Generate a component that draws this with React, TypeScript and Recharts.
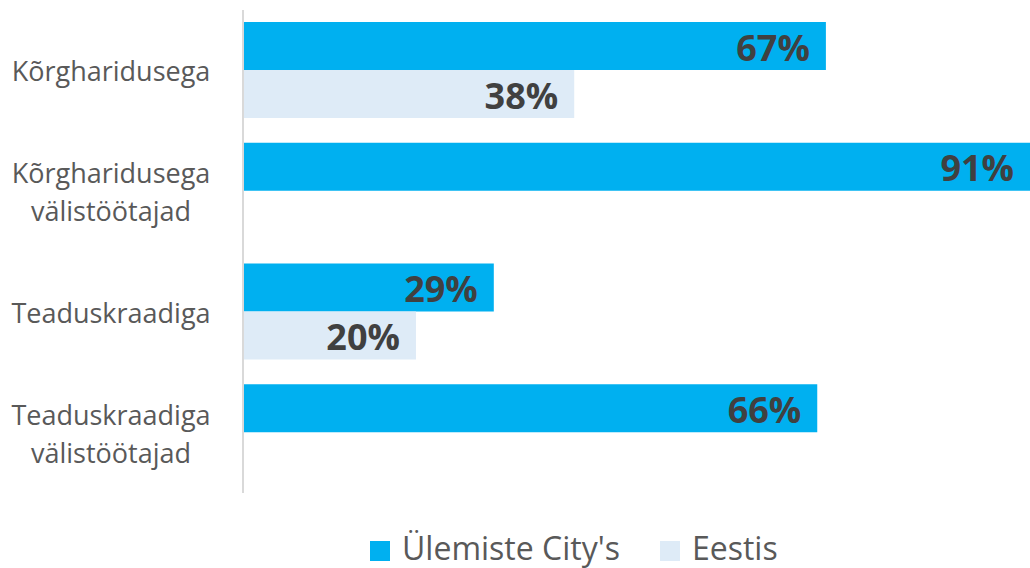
import { Bar, BarChart, LabelList, Legend, XAxis, YAxis } from "recharts";

const categories = [
	"Kõrgharidusega",
	"Kõrgharidusega välistöötajad",
	"Teaduskraadiga",
	"Teaduskraadiga välistöötajad",
];
// bar lengths; labels show them rounded
const ulemiste = [67.4, 91, 29, 66.4];
const eestis: (number | null)[] = [38.3, null, 20, null];

const BLUE = "#00B0F0";
const LIGHT = "#DEEBF7";
const FONT = "'Open Sans', 'Noto Sans', sans-serif";

const data = categories.map((name, i) => ({
	name,
	city: ulemiste[i],
	eestis: eestis[i],
}));

const CategoryTick = (props: any) => {
	const { y, payload } = props;
	const lines = String(payload.value).split(" ");
	const lh = 38;
	const startY = y - ((lines.length - 1) * lh) / 2;
	return (
		<text
			x={111}
			y={startY}
			textAnchor="middle"
			fill="#595959"
			fontSize={27}
			fontFamily={FONT}
			dominantBaseline="central"
		>
			{lines.map((l, i) => (
				<tspan key={i} x={111} y={startY + i * lh} dominantBaseline="central">
					{l}
				</tspan>
			))}
		</text>
	);
};

const ValueLabel = (props: any) => {
	const { x, y, width, height, value } = props;
	if (value == null) return null;
	return (
		<text
			x={x + width - 16}
			y={y + height / 2 + 1}
			textAnchor="end"
			dominantBaseline="central"
			fill="#404040"
			fontSize={36}
			fontWeight={700}
			fontFamily={FONT}
		>
			{`${Math.round(value)}%`}
		</text>
	);
};

const LegendContent = () => (
	<div style={{ display: "flex", alignItems: "center", fontFamily: FONT, fontSize: 32, color: "#595959", lineHeight: "40px" }}>
		<span style={{ width: 20, height: 20, background: BLUE, display: "inline-block", marginRight: 12, marginTop: 6 }} />
		<span style={{ marginRight: 40 }}>Ülemiste City's</span>
		<span style={{ width: 20, height: 20, background: LIGHT, display: "inline-block", marginRight: 12, marginTop: 6 }} />
		<span>Eestis</span>
	</div>
);

export default function App() {
	return (
		<div style={{ position: "absolute", left: 0, top: 0, background: "#fff" }}>
			<BarChart
				width={1030}
				height={568}
				data={data}
				layout="vertical"
				margin={{ top: 10, right: 0, bottom: 35, left: 0 }}
				barCategoryGap="10%"
				barGap={0}
			>
				<XAxis type="number" domain={[0, 91]} hide />
				<YAxis
					type="category"
					dataKey="name"
					width={243}
					tick={<CategoryTick />}
					tickLine={false}
					axisLine={{ stroke: "#D9D9D9", strokeWidth: 2 }}
					interval={0}
				/>
				<Legend
					content={<LegendContent />}
					wrapperStyle={{ position: "absolute", left: 370, top: 528, width: "auto", height: 40 }}
				/>
				<Bar dataKey="city" fill={BLUE} isAnimationActive={false}>
					<LabelList dataKey="city" content={<ValueLabel />} />
				</Bar>
				<Bar dataKey="eestis" fill={LIGHT} isAnimationActive={false}>
					<LabelList dataKey="eestis" content={<ValueLabel />} />
				</Bar>
			</BarChart>
		</div>
	);
}
